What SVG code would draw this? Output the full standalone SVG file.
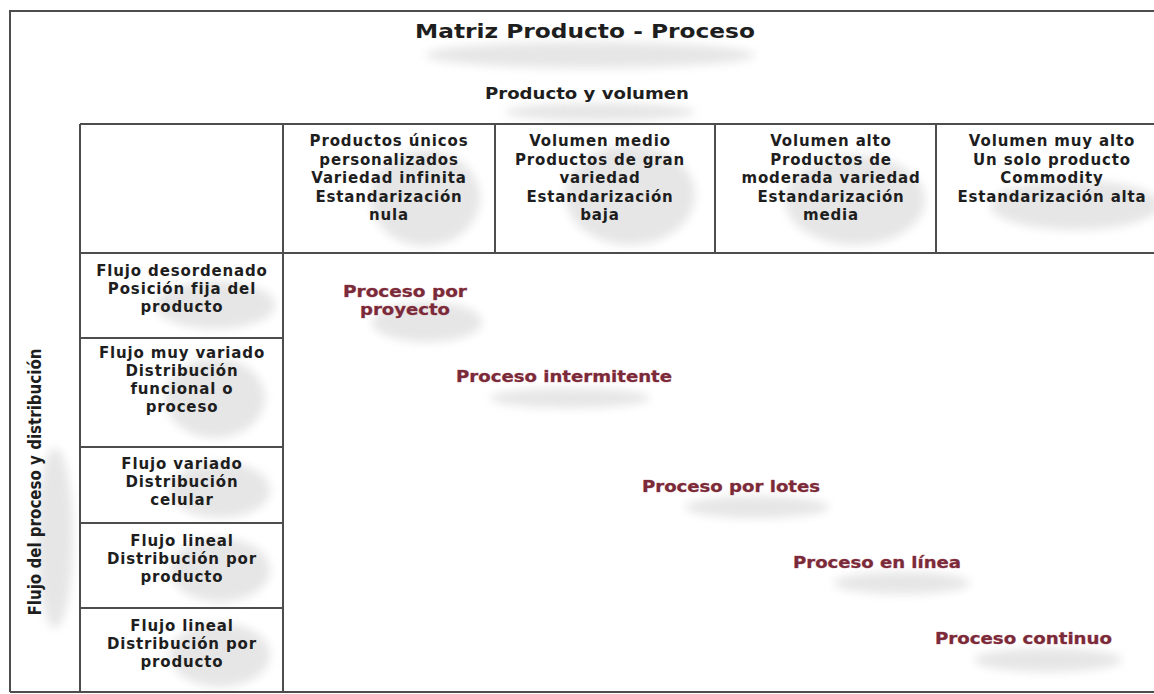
<svg xmlns="http://www.w3.org/2000/svg" width="1154" height="694" viewBox="0 0 1154 694">
<style>
.t{font-family:"DejaVu Sans","Liberation Sans",sans-serif;font-weight:bold;fill:#1e1e1e}
.c{font-size:15px;letter-spacing:0.85px;text-anchor:middle}
.p{font-size:15px;fill:#7a2a38;stroke:#c98a94;stroke-width:0.5px;paint-order:stroke}
.g{stroke:#4d4d4d;stroke-width:2;fill:none}
.b{fill:#dcdcdc;opacity:0.7;filter:url(#blur)}
</style>
<defs>
<filter id="blur" x="-50%" y="-50%" width="200%" height="200%"><feGaussianBlur stdDeviation="5"/></filter>
</defs>
<rect width="1154" height="694" fill="#ffffff"/>
<g id="shadows">
<ellipse class="b" cx="590" cy="55" rx="165" ry="13"/>
<ellipse class="b" cx="600" cy="112" rx="95" ry="9"/>
<ellipse class="b" cx="425" cy="198" rx="55" ry="48"/>
<ellipse class="b" cx="630" cy="195" rx="65" ry="50"/>
<ellipse class="b" cx="855" cy="200" rx="70" ry="45"/>
<ellipse class="b" cx="1075" cy="205" rx="85" ry="25"/>
<ellipse class="b" cx="215" cy="305" rx="60" ry="24"/>
<ellipse class="b" cx="215" cy="398" rx="50" ry="40"/>
<ellipse class="b" cx="220" cy="490" rx="50" ry="28"/>
<ellipse class="b" cx="220" cy="570" rx="50" ry="32"/>
<ellipse class="b" cx="220" cy="655" rx="50" ry="32"/>
<ellipse class="b" cx="55" cy="538" rx="18" ry="90"/>
<ellipse class="b" cx="427" cy="322" rx="55" ry="20"/>
<ellipse class="b" cx="570" cy="398" rx="80" ry="10"/>
<ellipse class="b" cx="757" cy="507" rx="72" ry="11"/>
<ellipse class="b" cx="902" cy="583" rx="68" ry="11"/>
<ellipse class="b" cx="1048" cy="660" rx="74" ry="12"/>
</g>
<g id="connectors">
<path class="g" d="M10 11V692M9 11H1154M10 692H1154"/>
<path class="g" d="M80 124H1154M80 253H1154M80 338H283M80 447H283M80 523H283M80 608H283"/>
<path class="g" d="M80 124V692M283 124V692M495 124V253M715 124V253M936 124V253"/>
</g>
<g id="title">
<text class="t" x="585" y="38" font-size="20" text-anchor="middle" textLength="340" lengthAdjust="spacingAndGlyphs">Matriz Producto - Proceso</text>
</g>
<g id="subtitle">
<text class="t" x="587" y="99" font-size="16" text-anchor="middle" textLength="204" lengthAdjust="spacingAndGlyphs">Producto y volumen</text>
</g>
<g id="axis-label">
<text class="t" transform="translate(41,482) scale(1.2,1) rotate(-90)" font-size="15" text-anchor="middle" textLength="267" lengthAdjust="spacingAndGlyphs">Flujo del proceso y distribución</text>
</g>
<g id="col1">
<text class="t c" x="389" y="146">Productos únicos</text>
<text class="t c" x="389" y="164.5">personalizados</text>
<text class="t c" x="389" y="183">Variedad infinita</text>
<text class="t c" x="389" y="201.5">Estandarización</text>
<text class="t c" x="389" y="220">nula</text>
</g>
<g id="col2">
<text class="t c" x="600" y="146">Volumen medio</text>
<text class="t c" x="600" y="164.5">Productos de gran</text>
<text class="t c" x="600" y="183">variedad</text>
<text class="t c" x="600" y="201.5">Estandarización</text>
<text class="t c" x="600" y="220">baja</text>
</g>
<g id="col3">
<text class="t c" x="831" y="146">Volumen alto</text>
<text class="t c" x="831" y="164.5">Productos de</text>
<text class="t c" x="831" y="183">moderada variedad</text>
<text class="t c" x="831" y="201.5">Estandarización</text>
<text class="t c" x="831" y="220">media</text>
</g>
<g id="col4">
<text class="t c" x="1052" y="146">Volumen muy alto</text>
<text class="t c" x="1052" y="164.5">Un solo producto</text>
<text class="t c" x="1052" y="183">Commodity</text>
<text class="t c" x="1052" y="201.5">Estandarización alta</text>
</g>
<g id="row1">
<text class="t c" x="182" y="276">Flujo desordenado</text>
<text class="t c" x="182" y="294">Posición fija del</text>
<text class="t c" x="182" y="312">producto</text>
</g>
<g id="row2">
<text class="t c" x="182" y="358">Flujo muy variado</text>
<text class="t c" x="182" y="376">Distribución</text>
<text class="t c" x="182" y="394">funcional o</text>
<text class="t c" x="182" y="412">proceso</text>
</g>
<g id="row3">
<text class="t c" x="182" y="469">Flujo variado</text>
<text class="t c" x="182" y="487">Distribución</text>
<text class="t c" x="182" y="505">celular</text>
</g>
<g id="row4">
<text class="t c" x="182" y="546">Flujo lineal</text>
<text class="t c" x="182" y="564">Distribución por</text>
<text class="t c" x="182" y="582">producto</text>
</g>
<g id="row5">
<text class="t c" x="182" y="631">Flujo lineal</text>
<text class="t c" x="182" y="649">Distribución por</text>
<text class="t c" x="182" y="667">producto</text>
</g>
<g id="proceso-proyecto">
<text class="t p" x="343" y="297" textLength="124" lengthAdjust="spacingAndGlyphs">Proceso por</text>
<text class="t p" x="360" y="315" textLength="90" lengthAdjust="spacingAndGlyphs">proyecto</text>
</g>
<g id="proceso-intermitente">
<text class="t p" x="456" y="382" textLength="216" lengthAdjust="spacingAndGlyphs">Proceso intermitente</text>
</g>
<g id="proceso-lotes">
<text class="t p" x="642" y="492" textLength="178" lengthAdjust="spacingAndGlyphs">Proceso por lotes</text>
</g>
<g id="proceso-linea">
<text class="t p" x="793" y="568" textLength="168" lengthAdjust="spacingAndGlyphs">Proceso en línea</text>
</g>
<g id="proceso-continuo">
<text class="t p" x="935" y="644" textLength="177" lengthAdjust="spacingAndGlyphs">Proceso continuo</text>
</g>
</svg>
